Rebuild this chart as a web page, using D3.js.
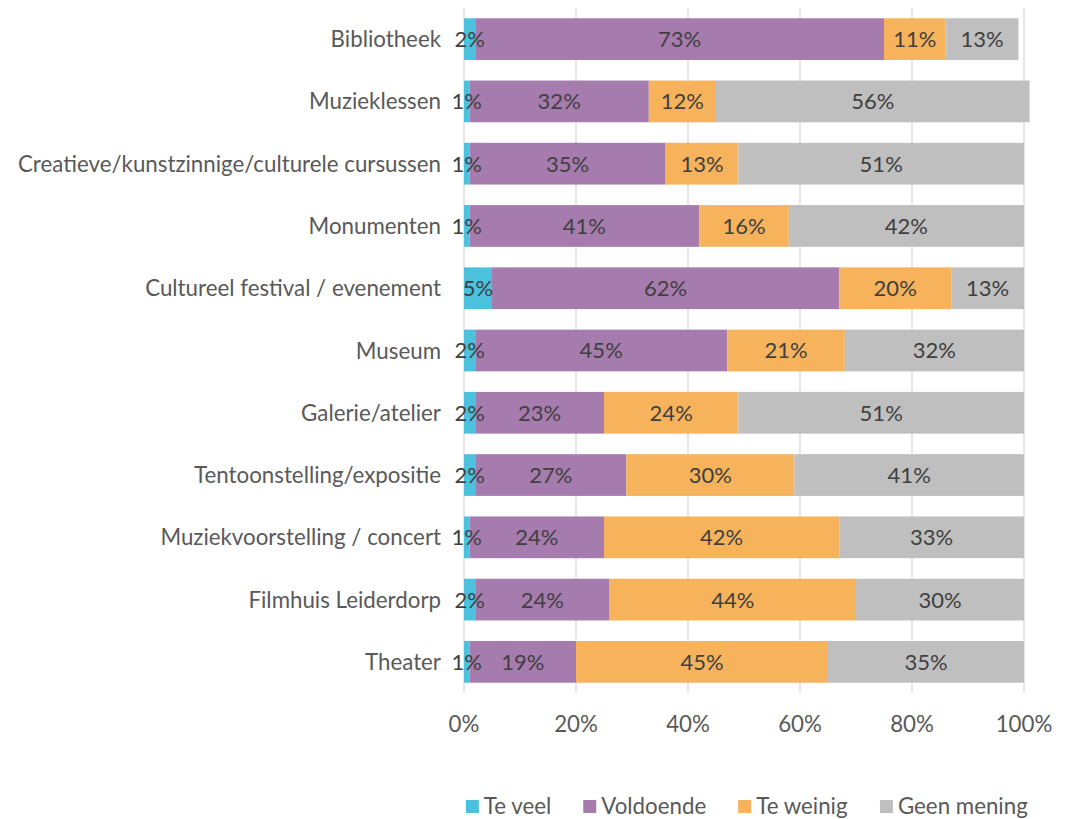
<!DOCTYPE html>
<html>
<head>
<meta charset="utf-8">
<script src="https://cdn.jsdelivr.net/npm/d3@7"></script>
<style>
  body { margin: 0; background: #fff; }
  text { font-family: Lato, "Open Sans", sans-serif; }
</style>
</head>
<body>
<div id="chart"></div>
<script>
// categories, top to bottom
var categories = [
  "Bibliotheek",
  "Muzieklessen",
  "Creatieve/kunstzinnige/culturele cursussen",
  "Monumenten",
  "Cultureel festival / evenement",
  "Museum",
  "Galerie/atelier",
  "Tentoonstelling/expositie",
  "Muziekvoorstelling / concert",
  "Filmhuis Leiderdorp",
  "Theater"
];

var seriesNames = ["Te veel", "Voldoende", "Te weinig", "Geen mening"];
var seriesColors = ["#4BC1DE", "#A67BAD", "#F6B35B", "#BFBFBF"];

var teVeel     = [2, 1, 1, 1, 5, 2, 2, 2, 1, 2, 1];
var voldoende  = [73, 32, 35, 41, 62, 45, 23, 27, 24, 24, 19];
var teWeinig   = [11, 12, 13, 16, 20, 21, 24, 30, 42, 44, 45];
var geenMening = [13, 56, 51, 42, 13, 32, 51, 41, 33, 30, 35];

var xTicks = [0, 20, 40, 60, 80, 100];

var width = 1080, height = 819;
var margin = { top: 8, right: 56, bottom: 126, left: 464 };
var plotW = width - margin.left - margin.right,
  plotH = height - margin.top - margin.bottom;

var svg = d3.select("#chart")
  .append("svg")
  .attr("width", width)
  .attr("height", height);

var g = svg.append("g")
  .attr("transform", "translate(" + margin.left + "," + margin.top + ")");

var x = d3.scaleLinear().domain([0, 100]).range([0, plotW]);
var y = d3.scaleBand().domain(categories).range([0, plotH]).paddingInner(0.33).paddingOuter(0.165);

// gridlines
g.selectAll("line.grid")
  .data(xTicks)
  .enter()
  .append("line")
  .attr("class", "grid")
  .attr("x1", function (d) { return x(d); })
  .attr("x2", function (d) { return x(d); })
  .attr("y1", 0)
  .attr("y2", plotH)
  .style("stroke", "#D9D9D9")
  .style("stroke-width", 1.3);

// stack the series
var rows = categories.map(function (c, i) {
  return { cat: c, s0: teVeel[i], s1: voldoende[i], s2: teWeinig[i], s3: geenMening[i] };
});
var stacked = d3.stack().keys(["s0", "s1", "s2", "s3"])(rows);

var layer = g.selectAll("g.layer")
  .data(stacked)
  .enter()
  .append("g")
  .attr("class", "layer")
  .style("fill", function (d, i) { return seriesColors[i]; });

layer.selectAll("rect")
  .data(function (d) { return d; })
  .enter()
  .append("rect")
  .attr("x", function (d) { return x(d[0]); })
  .attr("width", function (d) { return x(d[1]) - x(d[0]); })
  .attr("y", function (d) { return y(d.data.cat); })
  .attr("height", y.bandwidth());

// value labels
var labels = g.append("g");
stacked.forEach(function (s) {
  labels.selectAll(null)
    .data(s)
    .enter()
    .append("text")
    .attr("x", function (d) { return (x(d[0]) + x(d[1])) / 2; })
    .attr("y", function (d) { return y(d.data.cat) + y.bandwidth() / 2; })
    .attr("dy", "0.36em")
    .attr("text-anchor", "middle")
    .style("font-size", "22px")
    .style("fill", "#404040")
    .text(function (d) { return (d[1] - d[0]) + "%"; });
});

// category axis
g.selectAll("text.cat")
  .data(categories)
  .enter()
  .append("text")
  .attr("class", "cat")
  .attr("x", -23)
  .attr("y", function (d) { return y(d) + y.bandwidth() / 2; })
  .attr("dy", "0.36em")
  .attr("text-anchor", "end")
  .style("font-size", "22.3px")
  .style("fill", "#595959")
  .text(function (d) { return d; });

// x tick labels
g.selectAll("text.tick")
  .data(xTicks)
  .enter()
  .append("text")
  .attr("class", "tick")
  .attr("x", function (d) { return x(d); })
  .attr("y", plotH + 31)
  .attr("dy", "0.36em")
  .attr("text-anchor", "middle")
  .style("font-size", "22.3px")
  .style("fill", "#595959")
  .text(function (d) { return d + "%"; });

// legend
var legend = svg.append("g").attr("transform", "translate(0," + 806 + ")");
var items = legend.selectAll("g.item")
  .data(seriesNames)
  .enter()
  .append("g")
  .attr("class", "item");
items.append("rect")
  .attr("width", 13)
  .attr("height", 13)
  .attr("y", -6)
  .style("fill", function (d, i) { return seriesColors[i]; });
items.append("text")
  .attr("x", 18)
  .attr("dy", "0.36em")
  .style("font-size", "22.3px")
  .style("fill", "#595959")
  .text(function (d) { return d; });

var gap = 32, total = 0, widths = [];
items.each(function () {
  var w = this.getBBox().width;
  widths.push(w);
  total += w;
});
total += gap * (widths.length - 1);
var lx = 747 - total / 2;
items.attr("transform", function (d, i) {
  var t = "translate(" + lx + ",0)";
  lx += widths[i] + gap;
  return t;
});
</script>
</body>
</html>
